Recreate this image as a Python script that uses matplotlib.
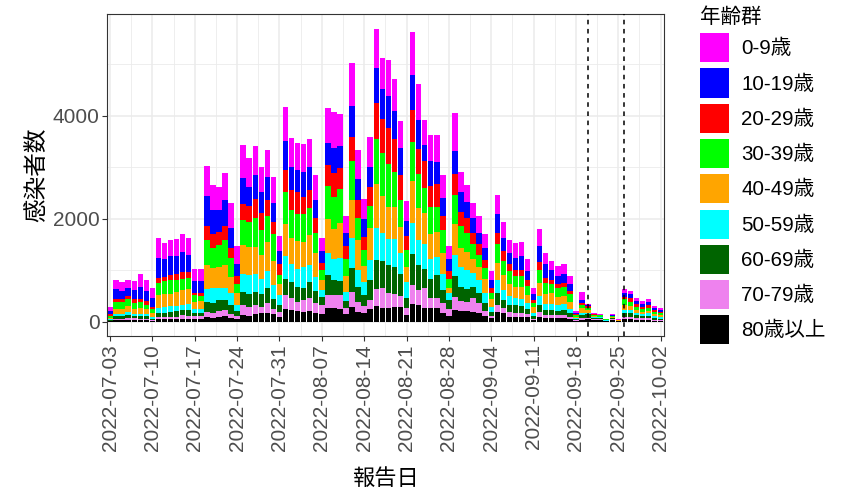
import numpy as np
import pandas as pd
import matplotlib
matplotlib.use('Agg')
import matplotlib.pyplot as plt
import matplotlib.dates as mdates
import matplotlib.transforms as mtransforms
from matplotlib.patches import Patch

plt.rcParams['font.family'] = ['Liberation Sans', 'Noto Sans CJK JP', 'DejaVu Sans']

# daily reported cases by age group, 2022-07-03 .. 2022-10-02
dates = pd.date_range('2022-07-03', '2022-10-02', freq='D')

age0_9 = [77, 181, 174, 161, 174, 245, 226,
          194, 387, 323, 303, 329, 355, 342,
          226, 239, 581, 490, 432, 522, 477,
          361, 651, 555, 555, 497, 529, 516,
          297, 671, 561, 516, 548, 548, 477,
          258, 677, 703, 613, 323, 839, 561,
          400, 587, 761, 600, 697, 613, 529,
          387, 832, 710, 484, 510, 535, 458,
          239, 729, 400, 335, 290, 323, 277,
          174, 387, 303, 239, 284, 277, 239,
          129, 335, 226, 174, 194, 181, 155,
          32, 148, 19, 6, 6, 0, 19,
          3, 77, 65, 65, 45, 45, 39,
          32]
age10_19 = [65, 181, 155, 155, 181, 232, 194,
            174, 381, 342, 374, 342, 387, 323,
            232, 232, 593, 464, 439, 516, 387,
            226, 497, 368, 471, 406, 439, 368,
            239, 555, 439, 439, 484, 445, 355,
            226, 426, 490, 439, 258, 593, 406,
            342, 387, 677, 581, 613, 548, 516,
            290, 684, 561, 303, 471, 419, 335,
            245, 452, 374, 310, 297, 219, 226,
            161, 355, 258, 213, 232, 258, 181,
            110, 310, 264, 181, 161, 181, 129,
            32, 77, 26, 13, 6, 3, 6,
            3, 77, 84, 65, 77, 65, 45,
            39]
age20_29 = [39, 65, 71, 71, 77, 65, 77,
            39, 103, 77, 97, 116, 129, 116,
            52, 65, 271, 277, 258, 271, 194,
            148, 310, 323, 368, 323, 323, 239,
            226, 419, 381, 419, 335, 355, 290,
            148, 413, 452, 400, 252, 484, 348,
            245, 368, 710, 677, 710, 645, 490,
            277, 626, 484, 529, 419, 452, 290,
            155, 400, 290, 290, 219, 213, 161,
            84, 226, 200, 148, 129, 129, 110,
            65, 148, 97, 77, 84, 77, 65,
            19, 32, 39, 6, 6, 3, 13,
            3, 39, 77, 45, 32, 52, 32,
            26]
age30_39 = [39, 129, 123, 129, 110, 123, 84,
            90, 239, 258, 258, 245, 226, 226,
            129, 97, 484, 381, 419, 484, 374,
            194, 497, 484, 568, 497, 497, 516,
            161, 626, 548, 535, 535, 535, 387,
            181, 632, 626, 664, 323, 748, 426,
            323, 432, 871, 819, 826, 664, 529,
            323, 742, 664, 490, 529, 484, 432,
            168, 568, 413, 368, 277, 226, 206,
            129, 355, 271, 239, 206, 206, 168,
            77, 258, 206, 194, 161, 181, 148,
            26, 65, 45, 26, 26, 13, 13,
            6, 110, 65, 65, 52, 58, 45,
            39]
age40_49 = [26, 103, 103, 116, 97, 110, 90,
            77, 245, 245, 245, 271, 284, 290,
            135, 155, 471, 406, 419, 439, 323,
            226, 548, 548, 516, 452, 568, 458,
            226, 626, 503, 529, 484, 568, 471,
            206, 658, 581, 671, 310, 742, 593,
            303, 632, 851, 729, 626, 626, 503,
            290, 819, 626, 593, 471, 484, 406,
            110, 613, 374, 342, 277, 258, 277,
            142, 342, 290, 245, 213, 226, 161,
            103, 258, 206, 206, 161, 155, 148,
            32, 84, 52, 19, 13, 6, 13,
            6, 97, 84, 52, 45, 52, 39,
            39]
age50_59 = [19, 39, 39, 52, 39, 39, 39,
            26, 97, 116, 116, 103, 103, 110,
            84, 84, 239, 277, 226, 226, 226,
            116, 355, 368, 355, 303, 323, 271,
            194, 439, 355, 355, 400, 335, 277,
            129, 426, 406, 452, 181, 581, 323,
            258, 387, 632, 548, 516, 548, 400,
            323, 613, 484, 484, 387, 355, 310,
            129, 406, 387, 368, 271, 245, 206,
            97, 258, 194, 174, 142, 142, 123,
            65, 174, 116, 116, 110, 116, 65,
            13, 45, 32, 13, 13, 6, 13,
            6, 65, 65, 45, 32, 45, 32,
            26]
age60_69 = [13, 52, 52, 71, 45, 52, 52,
            26, 77, 90, 90, 103, 103, 110,
            52, 52, 194, 194, 213, 206, 174,
            97, 258, 245, 258, 245, 303, 213,
            129, 323, 323, 290, 245, 303, 239,
            161, 400, 303, 277, 142, 464, 290,
            213, 387, 548, 516, 535, 516, 439,
            181, 600, 471, 368, 368, 452, 271,
            181, 400, 277, 258, 226, 194, 142,
            84, 226, 161, 129, 161, 135, 103,
            52, 142, 97, 97, 84, 97, 77,
            19, 65, 77, 26, 26, 13, 19,
            6, 65, 65, 52, 52, 52, 39,
            32]
age70_79 = [6, 32, 32, 39, 39, 32, 32,
            19, 45, 39, 45, 45, 71, 65,
            52, 58, 110, 110, 110, 116, 84,
            58, 194, 174, 174, 129, 181, 90,
            97, 277, 226, 181, 226, 264, 194,
            174, 258, 258, 271, 116, 290, 194,
            129, 174, 342, 387, 290, 258, 219,
            142, 368, 303, 393, 213, 194, 194,
            129, 258, 187, 181, 258, 194, 103,
            45, 142, 97, 97, 77, 90, 58,
            26, 84, 52, 65, 65, 65, 52,
            13, 32, 19, 13, 13, 3, 13,
            6, 52, 52, 45, 32, 32, 19,
            13]
age80 = [6, 26, 26, 26, 26, 26, 26,
         13, 52, 45, 52, 52, 52, 52,
         58, 52, 84, 65, 97, 110, 65,
         52, 129, 116, 148, 161, 174, 148,
         97, 239, 226, 206, 194, 206, 161,
         148, 258, 258, 245, 142, 290, 194,
         174, 245, 303, 271, 271, 290, 277,
         129, 342, 323, 271, 258, 258, 161,
         110, 226, 213, 206, 194, 174, 110,
         65, 181, 161, 97, 84, 84, 84,
         32, 97, 77, 65, 65, 65, 45,
         19, 32, 45, 39, 32, 6, 32,
         6, 45, 45, 32, 32, 32, 13,
         13]

groups = ['0-9歳', '10-19歳', '20-29歳', '30-39歳', '40-49歳',
          '50-59歳', '60-69歳', '70-79歳', '80歳以上']
series = [age0_9, age10_19, age20_29, age30_39, age40_49,
          age50_59, age60_69, age70_79, age80]
colors = ['#FF00FF', '#0000FF', '#FF0000', '#00FF00', '#FFA500',
          '#00FFFF', '#006400', '#EE82EE', '#000000']
vlines = ['2022-09-20', '2022-09-26']

fig = plt.figure(figsize=(8.43, 4.91), dpi=100)
ax = fig.add_axes([107.3/843, 1-336.4/491, (663.7-107.3)/843, (336.4-14)/491])

x = mdates.date2num(dates)
bottom = np.zeros(len(dates))
# stack from oldest group at the bottom
for vals, col in zip(series[::-1], colors[::-1]):
    vals = np.array(vals, dtype=float)
    ax.bar(x, vals, bottom=bottom, width=0.9, color=col, linewidth=0, zorder=2)
    bottom += vals

for d in vlines:
    ax.axvline(mdates.date2num(pd.Timestamp(d)), color='black', lw=1.1,
               linestyle=(0, (3, 3)), zorder=3)

total_max = bottom.max()
ax.set_ylim(-0.05*total_max, 1.05*total_max)
ax.set_xlim(x[0]-0.45, x[0]+91.5)

ax.set_yticks([0, 2000, 4000])
ax.set_yticks([1000, 3000, 5000], minor=True)
ax.set_xticks(x[::7])
ax.set_xticks(x[::7][:-1]+3.5, minor=True)
ax.set_xticklabels([d.strftime('%Y-%m-%d') for d in dates[::7]], rotation=90,
                   ha='center', va='top')
offset = mtransforms.ScaledTranslation(4.5/100, 0, fig.dpi_scale_trans)
for lab in ax.get_xticklabels():
    lab.set_transform(lab.get_transform() + offset)

ax.grid(which='major', color='#EBEBEB', lw=1.1, zorder=0)
ax.grid(which='minor', color='#EBEBEB', lw=0.6, zorder=0)
ax.set_axisbelow(True)
ax.tick_params(which='major', length=3.5, width=0.8, color='#333333',
               labelsize=15, labelcolor='#4D4D4D', pad=2)
ax.tick_params(which='minor', length=0)
for s in ax.spines.values():
    s.set_color('#333333')
    s.set_linewidth(0.8)

ax.set_xlabel('報告日', fontsize=16, labelpad=13)
ax.set_ylabel('感染者数', fontsize=17, labelpad=3)

handles = [Patch(facecolor=c, edgecolor='none') for c in colors]
leg = fig.legend(handles, groups, loc='upper left',
                 bbox_to_anchor=(700/843, 1-7.5/491), frameon=False,
                 fontsize=14.8, title='年齢群', title_fontsize=14.8,
                 handlelength=1.4, handleheight=1.8, handletextpad=0.6,
                 labelspacing=0.3, borderpad=0, borderaxespad=0,
                 alignment='left')

fig.savefig('out.png', dpi=100)
